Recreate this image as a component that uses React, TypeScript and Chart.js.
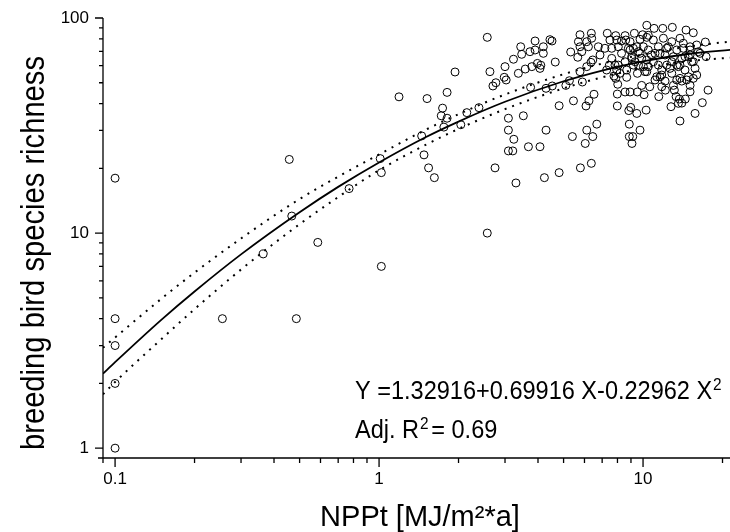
import React, { useEffect, useRef } from "react";
import { Chart, registerables } from "chart.js";

Chart.register(...registerables);

const FONT = "'Liberation Sans', Arial, Helvetica, sans-serif";

// axis ranges
const X_MIN = 0.09;
const X_MAX = 21.35;
const Y_MIN = 0.9;
const Y_MAX = 100;

// tick marks and labels
const xTickValues = [0.1, 0.2, 0.3, 0.4, 0.5, 0.6, 0.7, 0.8, 0.9, 1, 2, 3, 4, 5, 6, 7, 8, 9, 10, 20];
const xLabelValues = [0.1, 1, 10];
const yTickValues = [1, 2, 3, 4, 5, 6, 7, 8, 9, 10, 20, 30, 40, 50, 60, 70, 80, 90, 100];
const yLabelValues = [1, 10, 100];

const xTitle = "NPPt [MJ/m²*a]";
const yTitle = "breeding bird species richness";
const equationText = "Y =1.32916+0.69916 X-0.22962 X";
const r2Prefix = "Adj. R";
const r2Suffix = "= 0.69";

// observed sites: [NPPt, richness]
const sparseSites: [number, number][] = [
  [0.1, 18], [0.1, 4], [0.1, 3], [0.1, 2], [0.1, 1], [0.255, 4], [0.364, 8], [0.457, 22],
  [0.467, 12], [0.486, 4], [0.586, 9.05], [0.77, 16.1], [1.01, 22.2], [1.02, 19.1], [1.02, 7],
  [1.19, 43], [1.52, 42.2], [1.81, 45.1], [1.94, 56.1], [1.74, 38.1], [1.72, 35.1], [1.81, 34.2],
  [1.76, 31.1], [1.45, 28.3], [1.48, 23.1], [1.54, 20.1], [1.62, 18.1], [2.04, 31.9], [2.15, 36.3],
  [2.39, 38.3], [2.57, 81.3], [2.57, 10], [2.75, 20.1],
];

const clusterSites: [number, number][] = [
  [10.33, 92.5], [11.01, 89.5], [11.88, 89.5], [12.91, 90.5], [14.55, 87.9], [15.5, 85.4], [17.22, 77.3],
  [5.77, 83.6], [6.37, 84.9], [7.32, 84.9], [7.88, 82.8], [8.55, 82.8], [9.27, 84.9], [9.97, 83.6],
  [4.44, 79.3], [4.52, 78.2], [3.9, 78.2], [3.44, 73.5], [4.19, 73.5], [3.73, 69.7], [3.9, 71.0],
  [4.19, 68.5], [3.47, 67.8], [3.23, 64.3], [4.65, 62.4], [2.63, 56.3], [3.0, 59.4], [3.37, 55.3],
  [3.58, 57.9], [3.79, 59.4], [3.98, 61.5], [4.1, 60.3], [4.07, 58.3], [2.98, 53.0], [3.03, 51.5],
  [2.77, 50.0], [2.7, 48.3], [3.75, 47.6], [4.29, 47.1], [4.53, 48.3], [5.1, 48.6], [5.26, 51.1],
  [5.77, 56.3], [5.89, 50.4], [5.32, 69.5], [5.69, 77.6], [5.77, 73.5], [5.86, 69.7], [6.12, 77.6],
  [6.21, 73.5], [6.39, 80.5], [6.77, 73.5], [6.87, 67.3], [5.66, 65.7], [6.12, 59.4], [6.45, 63.8],
  [6.35, 62.2], [7.45, 60.3], [7.61, 72.3], [8.06, 73.5], [7.95, 79.0], [8.6, 79.0], [8.93, 77.6],
  [9.74, 79.6], [9.47, 73.5], [8.93, 71.0], [9.06, 64.9], [8.55, 62.6], [7.95, 57.3], [7.76, 53.7],
  [7.88, 52.4], [8.02, 49.2], [8.67, 53.0], [8.67, 57.3], [9.52, 55.3], [10.03, 59.4], [10.33, 56.3],
  [11.27, 53.3], [11.6, 53.3], [10.94, 62.6], [11.6, 68.5], [12.3, 60.4], [11.77, 57.3], [12.85, 55.3],
  [13.61, 59.4], [14.42, 57.3], [13.8, 52.4], [14.64, 51.5], [15.74, 58.3], [15.5, 62.6], [14.85, 66.1],
  [13.42, 71.0], [12.47, 73.5], [10.94, 79.0], [10.33, 81.3], [11.94, 80.5], [12.85, 77.6], [13.8, 80.5],
  [14.21, 76.3], [15.07, 73.5], [16.44, 68.5], [17.33, 66.1], [15.97, 74.9], [9.74, 68.5], [10.33, 63.8],
  [9.19, 60.4], [7.99, 44.3], [7.99, 39.0], [8.55, 45.3], [8.93, 45.3], [9.52, 45.3], [10.09, 44.0],
  [8.98, 38.4], [8.83, 37.1], [9.47, 36.0], [10.27, 37.3], [8.87, 32.1], [9.74, 30.1], [8.87, 28.1],
  [9.14, 28.1], [9.08, 26.1], [11.47, 43.1], [12.15, 46.2], [13.14, 46.2], [13.34, 43.1], [13.73, 42.0],
  [14.46, 42.0], [15.07, 45.4], [12.76, 38.7], [13.61, 40.1], [16.77, 40.4], [17.63, 46.2], [15.74, 36.0],
  [13.8, 33.2], [14.02, 40.2], [6.52, 44.2], [6.24, 41.2], [6.08, 39.0], [5.45, 41.2], [4.81, 39.1],
  [6.68, 32.1], [6.12, 30.1], [6.45, 28.1], [6.04, 26.1], [5.4, 28.1], [4.29, 30.1], [4.07, 25.2],
  [3.68, 25.2], [3.52, 35.1], [3.09, 34.2], [3.09, 30.1], [3.24, 27.3], [3.09, 24.1], [3.21, 24.1],
  [3.3, 17.1], [4.23, 18.1], [4.81, 19.1], [5.79, 20.1], [6.37, 21.1],
  [10.47, 83.1], [8.29, 78.2], [7.49, 79.0], [14.21, 72.3], [15.07, 71.0], [16.2, 69.7], [11.43, 73.5],
  [10.47, 71.0], [9.61, 69.7], [8.8, 72.3], [9.06, 66.1], [9.88, 64.9], [10.76, 67.3], [12.12, 67.3],
  [13.03, 66.1], [14.02, 64.9], [15.07, 67.3], [13.42, 60.4], [12.65, 58.3], [11.43, 60.4], [10.47, 59.4],
  [9.61, 60.4], [7.83, 60.4], [8.17, 55.3], [10.17, 56.3], [11.77, 54.3], [13.42, 51.5], [14.02, 50.9],
  [14.85, 53.3], [15.97, 54.3],
  [7.17, 72.3], [7.61, 64.9], [8.06, 60.4], [7.28, 57.3], [8.29, 68.5], [9.19, 72.3], [9.33, 62.6],
  [10.03, 73.5], [11.1, 68.5], [12.3, 72.3], [12.85, 62.6], [14.42, 66.1], [15.29, 62.6], [13.8, 60.4],
  [12.12, 50.9], [11.1, 51.5], [10.6, 47.9], [9.88, 48.6], [11.77, 47.9], [13.03, 48.6], [15.07, 48.6],
  [15.5, 52.4],
];

// fitted curve and confidence band, read along the x axis
const fitX = [0.09, 0.1, 0.15, 0.2, 0.3, 0.5, 0.7, 1, 1.5, 2, 3, 5, 7, 10, 15, 22];
const fitY = [2.22, 2.51, 3.96, 5.35, 7.96, 12.5, 16.4, 21.3, 27.9, 33.0, 40.8, 50.8, 57.0, 62.9, 68.2, 71.4];
const upperY = [2.93, 3.27, 4.96, 6.55, 9.44, 14.4, 18.3, 23.2, 30.2, 35.7, 44.1, 54.8, 61.4, 67.7, 73.8, 78.0];
const lowerY = [1.78, 2.03, 3.22, 4.43, 6.77, 11.0, 14.7, 19.6, 25.7, 30.5, 37.7, 47.1, 53.0, 58.4, 63.1, 65.5];

const decorPlugin = {
  id: "decor",
  afterDraw(chart: any) {
    const ctx = chart.ctx as CanvasRenderingContext2D;
    const xs = chart.scales.x;
    const ys = chart.scales.y;
    const { left, right, top, bottom } = chart.chartArea;
    ctx.save();
    ctx.strokeStyle = "#000";
    ctx.lineWidth = 1.3;
    ctx.beginPath();
    ctx.moveTo(left, top);
    ctx.lineTo(left, bottom + 5);
    ctx.moveTo(left - 5, bottom);
    ctx.lineTo(right, bottom);
    for (const v of xTickValues) {
      const p = xs.getPixelForValue(v);
      const len = xLabelValues.includes(v) ? 9 : 5;
      ctx.moveTo(p, bottom);
      ctx.lineTo(p, bottom + len);
    }
    for (const v of yTickValues) {
      const p = ys.getPixelForValue(v);
      const len = yLabelValues.includes(v) ? 8 : 4;
      ctx.moveTo(left - len, p);
      ctx.lineTo(left, p);
    }
    ctx.stroke();

    ctx.fillStyle = "#000";
    // x title
    ctx.font = `29px ${FONT}`;
    ctx.textAlign = "center";
    ctx.textBaseline = "alphabetic";
    ctx.fillText(xTitle, 420, 526);

    // y title (condensed)
    ctx.save();
    ctx.translate(44, 253);
    ctx.rotate(-Math.PI / 2);
    ctx.scale(0.858, 1);
    ctx.font = `34px ${FONT}`;
    ctx.textAlign = "center";
    ctx.fillText(yTitle, 0, 0);
    ctx.restore();

    // equation (condensed)
    const sx = 0.905;
    ctx.save();
    ctx.translate(355, 0);
    ctx.scale(sx, 1);
    ctx.textAlign = "left";
    ctx.font = `26px ${FONT}`;
    ctx.fillText(equationText, 0, 399);
    let w = ctx.measureText(equationText).width;
    ctx.font = `17px ${FONT}`;
    ctx.fillText("2", w + 1, 390);

    ctx.font = `26px ${FONT}`;
    ctx.fillText(r2Prefix, 0, 438);
    w = ctx.measureText(r2Prefix).width;
    ctx.font = `17px ${FONT}`;
    ctx.fillText("2", w + 1, 429);
    const w2 = ctx.measureText("2").width;
    ctx.font = `26px ${FONT}`;
    ctx.fillText(r2Suffix, w + w2 + 4, 438);
    ctx.restore();

    ctx.restore();
  },
};

const zeroPadding = (s: any) => {
  s.paddingTop = 0;
  s.paddingBottom = 0;
  s.paddingLeft = 0;
  s.paddingRight = 0;
};

export default function App() {
  const ref = useRef<HTMLCanvasElement>(null);

  useEffect(() => {
    const sites = [...sparseSites, ...clusterSites].map(([x, y]) => ({ x, y }));
    const fit = fitX.map((x, i) => ({ x, y: fitY[i] }));
    const upper = fitX.map((x, i) => ({ x, y: upperY[i] }));
    const lower = fitX.map((x, i) => ({ x, y: lowerY[i] }));

    const chart = new Chart(ref.current as HTMLCanvasElement, {
      type: "scatter",
      data: {
        datasets: [
          {
            type: "scatter",
            data: sites,
            pointStyle: "circle",
            pointRadius: 4,
            pointBorderWidth: 1,
            pointBorderColor: "#000",
            pointBackgroundColor: "rgba(0,0,0,0)",
            order: 2,
          } as any,
          {
            type: "line",
            data: fit,
            borderColor: "#000",
            borderWidth: 1.8,
            pointRadius: 0,
            cubicInterpolationMode: "monotone",
            fill: false,
            order: 0,
          } as any,
          {
            type: "line",
            data: upper,
            borderColor: "#000",
            borderWidth: 2,
            borderDash: [2, 6],
            pointRadius: 0,
            cubicInterpolationMode: "monotone",
            fill: false,
            order: 1,
          } as any,
          {
            type: "line",
            data: lower,
            borderColor: "#000",
            borderWidth: 2,
            borderDash: [2, 6],
            pointRadius: 0,
            cubicInterpolationMode: "monotone",
            fill: false,
            order: 1,
          } as any,
        ],
      },
      options: {
        animation: false,
        responsive: false,
        devicePixelRatio: 1,
        layout: { autoPadding: false, padding: { left: 0, right: 0, top: 18, bottom: 0 } },
        plugins: { legend: { display: false }, tooltip: { enabled: false } },
        events: [],
        scales: {
          x: {
            type: "logarithmic",
            min: X_MIN,
            max: X_MAX,
            bounds: "data",
            grid: { display: false, drawTicks: false },
            border: { display: false },
            ticks: {
              autoSkip: false,
              maxRotation: 0,
              minRotation: 0,
              padding: 11,
              color: "#000",
              font: { family: FONT, size: 17 },
              callback: (v: any) => String(v),
            },
            afterBuildTicks: (s: any) => {
              s.ticks = xLabelValues.map((value) => ({ value }));
            },
            afterFit: (s: any) => {
              s.height = 74;
              zeroPadding(s);
            },
          },
          y: {
            type: "logarithmic",
            min: Y_MIN,
            max: Y_MAX,
            bounds: "data",
            grid: { display: false, drawTicks: false },
            border: { display: false },
            ticks: {
              autoSkip: false,
              padding: 14,
              color: "#000",
              font: { family: FONT, size: 17 },
              callback: (v: any) => String(v),
            },
            afterBuildTicks: (s: any) => {
              s.ticks = yLabelValues.map((value) => ({ value }));
            },
            afterFit: (s: any) => {
              s.width = 103;
              zeroPadding(s);
            },
          },
        },
      } as any,
      plugins: [decorPlugin],
    });
    return () => chart.destroy();
  }, []);

  return (
    <div style={{ position: "absolute", left: 0, top: 0, width: 730, height: 532, background: "#fff" }}>
      <canvas ref={ref} width={730} height={532} style={{ display: "block", width: 730, height: 532 }} />
    </div>
  );
}
